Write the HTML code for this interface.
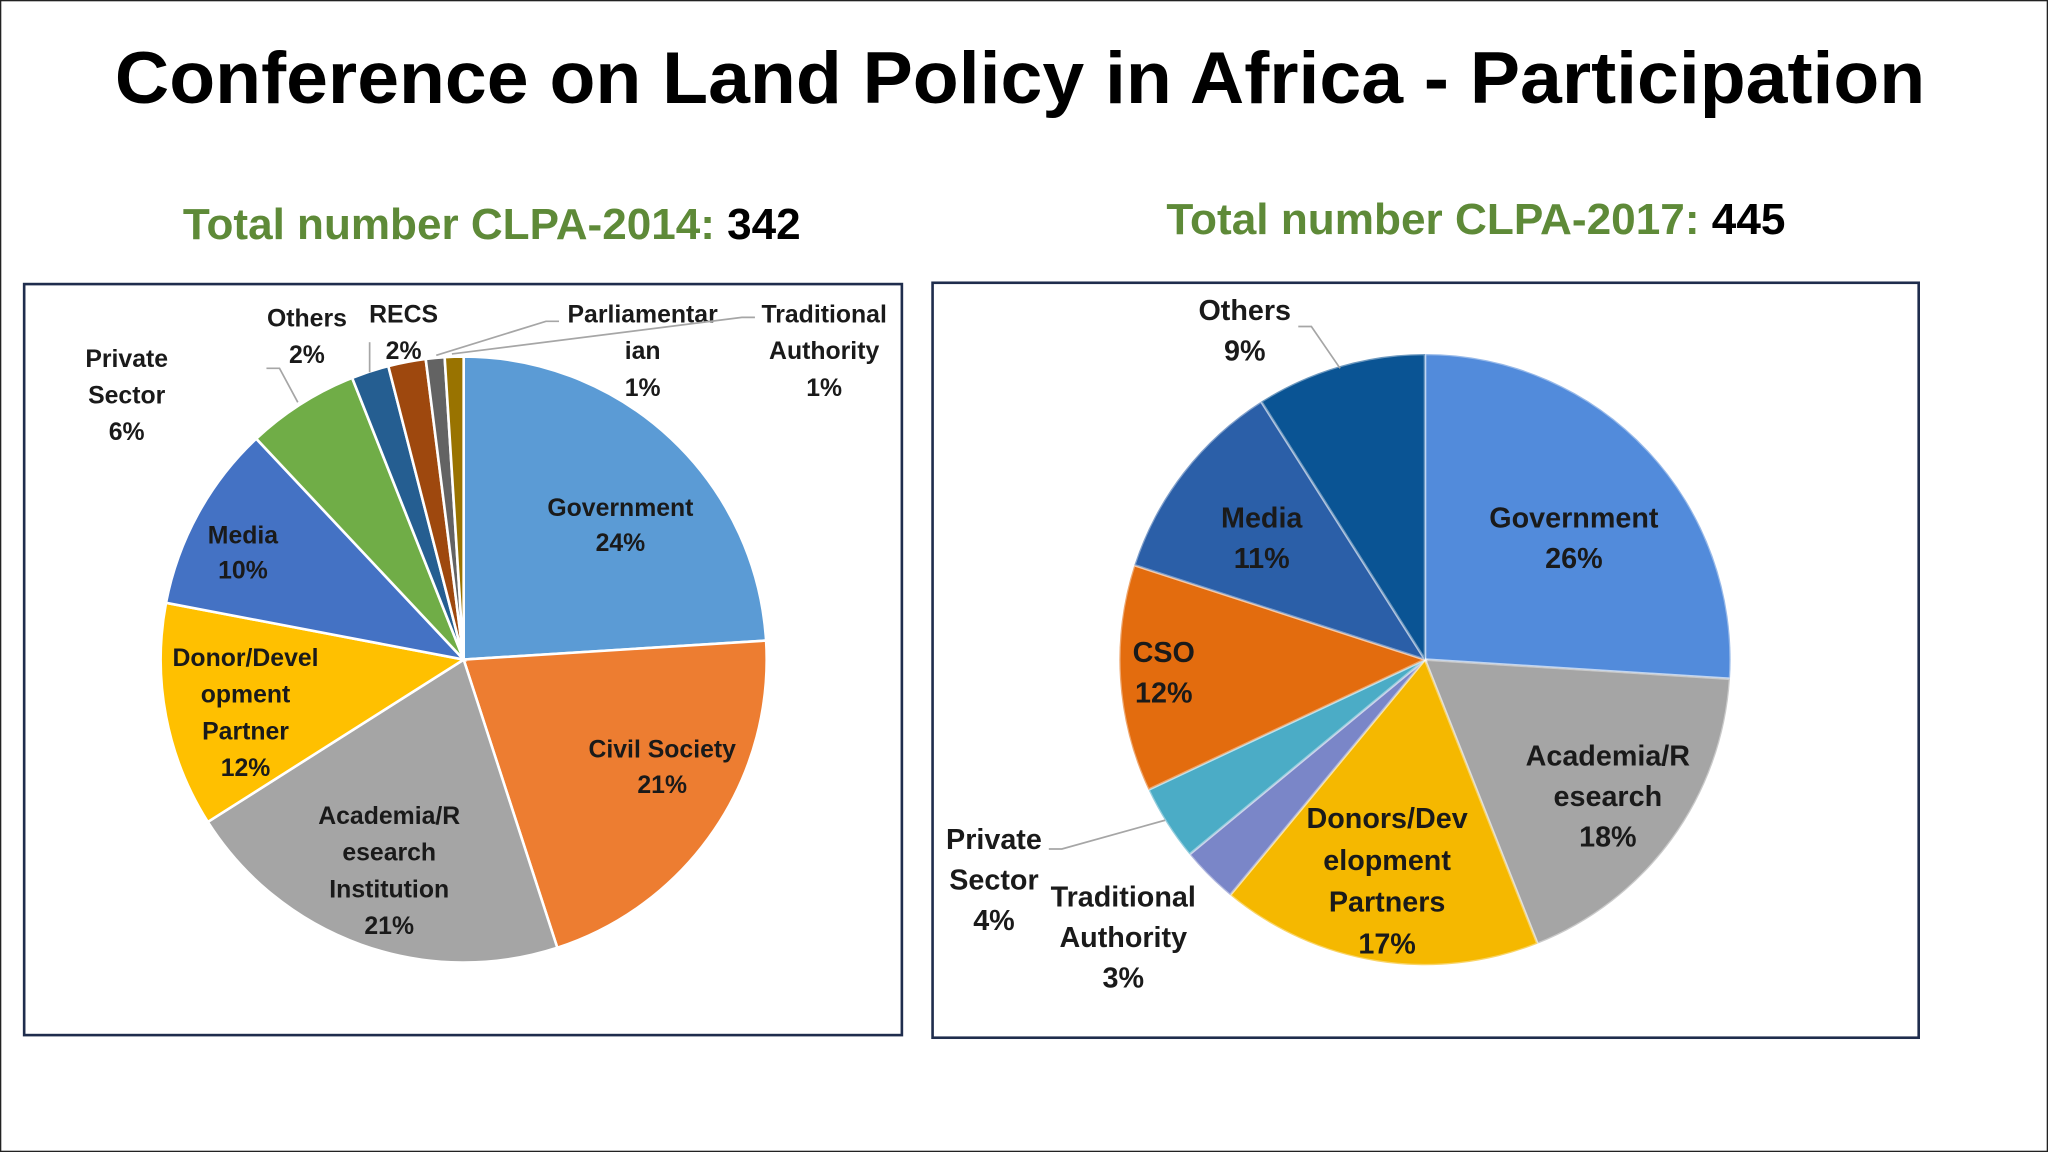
<!DOCTYPE html>
<html><head><meta charset="utf-8">
<style>
html,body{margin:0;padding:0;background:#fff;}
svg{display:block;}
text{font-family:"Liberation Sans","DejaVu Sans",sans-serif;}
</style></head>
<body>
<svg id="root" width="2048" height="1152" viewBox="0 0 1568 882" xmlns="http://www.w3.org/2000/svg">
<rect x="0.5" y="0.5" width="1567" height="881" fill="#fff" stroke="#222" stroke-width="1"/>
<text x="781" y="79" text-anchor="middle" font-size="56" font-weight="bold" fill="#000" textLength="1386" lengthAdjust="spacingAndGlyphs">Conference on Land Policy in Africa - Participation</text>
<text x="140" y="183" font-size="33" font-weight="bold" fill="#5E8A38" textLength="473" lengthAdjust="spacingAndGlyphs">Total number CLPA-2014: <tspan fill="#000">342</tspan></text>
<text x="893" y="179" font-size="33" font-weight="bold" fill="#5E8A38" textLength="474" lengthAdjust="spacingAndGlyphs">Total number CLPA-2017: <tspan fill="#000">445</tspan></text>
<rect x="18.5" y="217.5" width="672" height="575" fill="#fff" stroke="#1F2D4D" stroke-width="2"/>
<rect x="714" y="216.5" width="755" height="578" fill="#fff" stroke="#1F2D4D" stroke-width="2"/>
<g id="pie1"></g>
<g id="pie2"></g>
<g id="labels"></g>
</svg>
<script>
const cats2014 = ["Government","Civil Society","Academia/Research Institution","Donor/Development Partner","Media","Private Sector","Others","RECS","Parliamentarian","Traditional Authority"];
const vals2014 = [24, 21, 21, 12, 10, 6, 2, 2, 1, 1];
const colors2014 = ["#5B9BD5","#ED7D31","#A5A5A5","#FFC000","#4472C4","#70AD47","#255E91","#9E480E","#636363","#997300"];
const cats2017 = ["Government","Academia/Research","Donors/Development Partners","Traditional Authority","Private Sector","CSO","Media","Others"];
const vals2017 = [26, 18, 17, 3, 4, 12, 11, 9];
const colors2017 = ["#528BDB","#A5A5A5","#F5B800","#7A86C8","#4BACC6","#E36C0E","#2B5FA8","#0A5494"];

const NS="http://www.w3.org/2000/svg";
function drawPie(gid, cats, vals, colors, cx, cy, r, stroke){
  const g=document.getElementById(gid);
  const tot=vals.reduce((a,b)=>a+b,0);
  let a0=0;
  vals.forEach((v,i)=>{
    const a1=a0+v/tot*2*Math.PI;
    const x0=cx+r*Math.sin(a0), y0=cy-r*Math.cos(a0);
    const x1=cx+r*Math.sin(a1), y1=cy-r*Math.cos(a1);
    const large=(a1-a0)>Math.PI?1:0;
    const p=document.createElementNS(NS,"path");
    p.setAttribute("d",`M${cx},${cy} L${x0},${y0} A${r},${r} 0 ${large} 1 ${x1},${y1} Z`);
    p.setAttribute("fill",colors[i]);
    p.setAttribute("stroke",stroke);
    p.setAttribute("stroke-width","2");
    
    
    g.appendChild(p);
    a0=a1;
  });
}
drawPie("pie1",cats2014,vals2014,colors2014,355,505,232,"#fff");
drawPie("pie2",cats2017,vals2017,colors2017,1091,505,234,"rgba(255,255,255,0.4)");

const lab=document.getElementById("labels");
function label(lines,x,y,size,lh,name){
  const t=document.createElementNS(NS,"text");
  t.setAttribute("x",x);t.setAttribute("y",y);
  t.setAttribute("text-anchor","middle");
  t.setAttribute("font-size",size);
  t.setAttribute("font-weight","bold");
  t.setAttribute("fill","#1a1a1a");
  lines.forEach((s,i)=>{
    const ts=document.createElementNS(NS,"tspan");
    ts.setAttribute("x",x);ts.setAttribute("dy",i?lh:0);
    ts.textContent=s;t.appendChild(ts);
  });
  
  
  lab.appendChild(t);
}
function line(pts,name){
  const l=document.createElementNS(NS,"polyline");
  l.setAttribute("points",pts);
  l.setAttribute("fill","none");
  l.setAttribute("stroke","#A6A6A6");
  l.setAttribute("stroke-width","1.3");
  
  
  lab.appendChild(l);
}
label(["Government","24%"],475,395,19,27,"label-2014-government");
label(["Civil Society","21%"],507,580,19,27,"label-2014-civil-society");
label(["Academia/R","esearch","Institution","21%"],298,631,19,28,"label-2014-academia");
label(["Donor/Devel","opment","Partner","12%"],188,510,19,28,"label-2014-donor");
label(["Media","10%"],186,416,19,27,"label-2014-media");
label(["Private","Sector","6%"],97,281,19,28,"label-2014-private-sector");
label(["Others","2%"],235,250,19,28,"label-2014-others");
label(["RECS","2%"],309,247,19,28,"label-2014-recs");
label(["Parliamentar","ian","1%"],492,247,19,28,"label-2014-parliamentarian");
label(["Traditional","Authority","1%"],631,247,19,28,"label-2014-traditional");
line("204,282 214,282 228,308","leader-2014-others");
line("283,262 283,285","leader-2014-recs");
line("428,246 418,246 334,272","leader-2014-parliamentarian");
line("578,243 568,243 346,271","leader-2014-traditional");
label(["Government","26%"],1205,404,22,31,"label-2017-government");
label(["Academia/R","esearch","18%"],1231,586,22,31,"label-2017-academia");
label(["Donors/Dev","elopment","Partners","17%"],1062,634,22,32,"label-2017-donors");
label(["CSO","12%"],891,507,22,31,"label-2017-cso");
label(["Media","11%"],966,404,22,31,"label-2017-media");
label(["Others","9%"],953,245,22,31,"label-2017-others");
label(["Private","Sector","4%"],761,650,22,31,"label-2017-private-sector");
label(["Traditional","Authority","3%"],860,694,22,31,"label-2017-traditional");
line("994,250 1004,250 1026,282","leader-2017-others");
line("803,650 813,650 892,628","leader-2017-private-sector");
</script>
</body></html>
